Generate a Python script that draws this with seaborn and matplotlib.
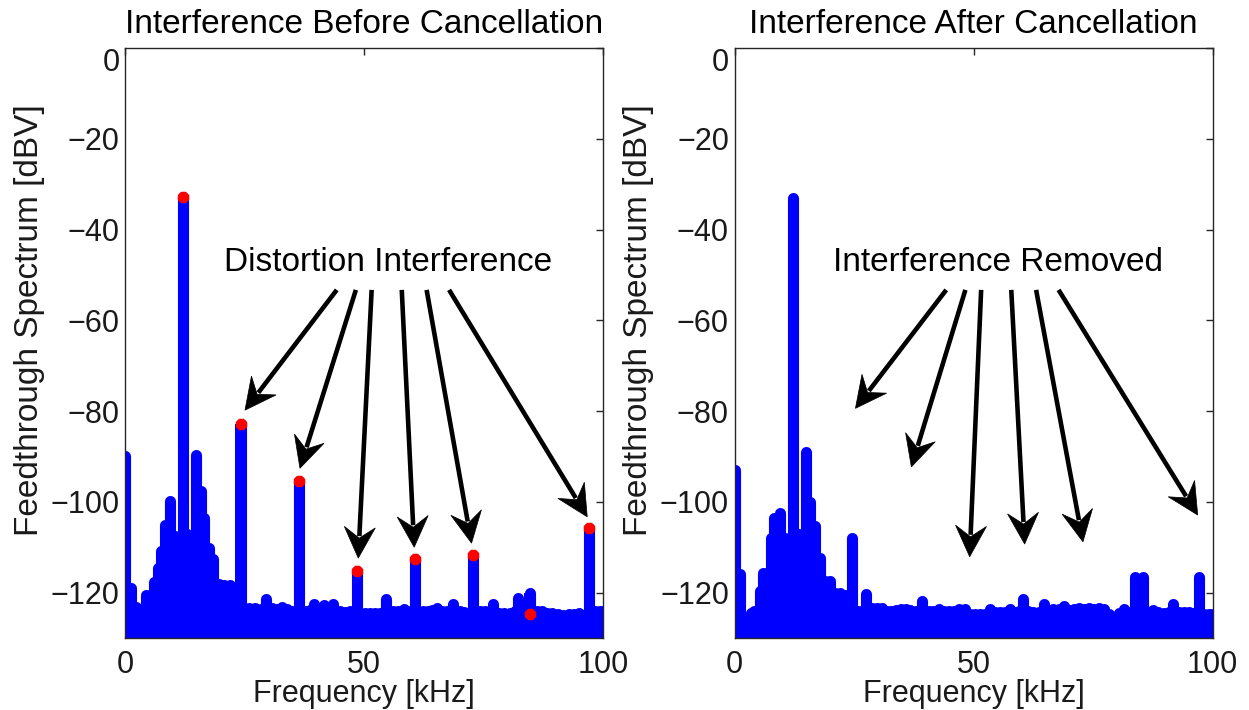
import numpy as np
import pandas as pd
import matplotlib
matplotlib.use("Agg")
import matplotlib.pyplot as plt
import seaborn as sns
from matplotlib.patches import Polygon

# ---------------- data ----------------
before_freq = [0.0, 1.2, 2.3, 3.3, 4.3, 5.3, 6.0, 6.8, 7.6, 8.3, 9.4, 10.5, 12.1, 13.0,
               14.9, 15.8, 16.6, 17.5, 18.5, 19.7, 20.8, 21.9, 24.3, 26.0, 27.2, 28.4,
               29.6, 30.8, 31.8, 32.8, 33.9, 35.0, 36.4, 37.8, 38.7, 39.5, 40.5, 41.6,
               42.5, 43.6, 44.9, 46.0, 47.0, 48.5, 50.2, 51.3, 52.3, 53.4, 54.7, 56.0,
               57.2, 58.3, 59.2, 60.7, 62.3, 63.4, 64.3, 65.2, 66.3, 67.3, 68.7, 70.0,
               71.0, 72.8, 74.3, 75.4, 76.9, 78.2, 79.3, 80.5, 81.5, 82.3, 84.7, 86.1,
               87.2, 88.3, 89.4, 90.5, 91.7, 92.8, 93.9, 95.0, 97.1, 98.4, 99.4, 100.0]
before_db = [-90.0, -119.0, -123.2, -124.0, -120.5, -120.5, -117.6, -114.6, -110.9, -105.0,
             -99.9, -107.5, -32.8, -107.0, -89.6, -97.7, -103.5, -110.1, -112.7, -118.2,
             -118.4, -118.4, -82.9, -123.4, -123.4, -123.6, -121.5, -123.4, -123.6, -123.2,
             -123.6, -124.0, -95.4, -124.0, -123.8, -122.5, -123.5, -122.7, -123.4, -122.6,
             -124.1, -124.2, -124.1, -115.2, -124.5, -124.5, -124.5, -124.5, -121.5, -124.0,
             -124.0, -123.6, -124.0, -112.6, -124.0, -124.0, -123.8, -123.3, -124.0, -124.0,
             -122.6, -124.0, -124.2, -111.7, -124.1, -124.1, -122.6, -124.5, -124.5, -124.5,
             -124.0, -121.1, -120.0, -124.0, -124.0, -124.5, -124.6, -124.8, -125.0, -124.8,
             -124.7, -124.6, -105.8, -124.0, -124.0, -124.0]

after_freq = [0.0, 1.1, 1.6, 2.5, 3.4, 4.1, 5.3, 6.0, 6.8, 7.6, 8.3, 9.5, 10.6, 12.2,
              13.4, 15.0, 15.8, 16.8, 17.9, 18.9, 19.9, 21.0, 22.1, 23.2, 24.5, 25.9,
              26.6, 27.5, 28.7, 29.8, 30.8, 31.8, 32.8, 33.8, 34.8, 35.8, 36.8, 37.9,
              39.3, 40.6, 41.6, 42.7, 43.8, 44.8, 45.9, 47.0, 48.2, 49.3, 50.3, 51.4,
              52.5, 53.5, 54.6, 55.6, 56.6, 57.6, 58.6, 59.5, 60.4, 61.4, 62.4, 63.6,
              64.7, 65.7, 66.7, 67.8, 69.0, 70.1, 71.1, 72.1, 73.1, 74.1, 75.2, 76.2,
              77.3, 78.3, 79.4, 80.4, 81.5, 82.5, 83.8, 85.5, 86.6, 87.6, 88.7, 89.8,
              90.8, 91.8, 92.9, 94.0, 95.0, 96.0, 97.1, 98.3, 99.3, 100.0]
after_db = [-93.0, -116.0, -125.5, -125.8, -124.5, -124.0, -119.7, -115.7, -115.7, -108.0,
            -103.5, -102.4, -108.0, -33.0, -107.0, -89.0, -100.0, -105.4, -112.4, -117.5,
            -117.5, -120.0, -120.0, -120.5, -108.0, -124.0, -124.0, -120.4, -123.4, -123.4,
            -123.4, -124.0, -124.0, -123.8, -123.7, -123.7, -123.8, -124.0, -121.9, -124.0,
            -124.0, -123.7, -124.0, -124.0, -124.0, -123.7, -123.7, -124.8, -124.8, -124.8,
            -124.8, -123.7, -124.3, -124.3, -124.3, -123.5, -124.3, -124.0, -121.3, -124.0,
            -124.3, -124.3, -122.5, -124.0, -123.7, -123.7, -123.0, -123.8, -123.5, -123.4,
            -123.6, -123.4, -123.6, -123.4, -123.7, -124.8, -125.5, -124.5, -123.5, -124.2,
            -116.5, -116.5, -124.2, -123.9, -124.2, -124.5, -124.2, -122.6, -124.2, -124.2,
            -124.3, -124.5, -116.5, -124.8, -124.8, -124.8]

marker_freq = [12.1, 24.3, 36.4, 48.5, 60.7, 72.8, 84.7, 97.1]
marker_db = [-32.8, -82.9, -95.4, -115.2, -112.6, -111.7, -124.7, -105.8]

x_ticks = [0, 50, 100]
y_ticks = [-120, -100, -80, -60, -40, -20, 0]

titles = ["Interference Before Cancellation", "Interference After Cancellation"]
notes = ["Distortion Interference", "Interference Removed"]
x_label = "Frequency [kHz]"
y_label = "Feedthrough Spectrum [dBV]"

# annotation arrows (tail -> tip) in data coordinates of each panel
arrow_tails = [(44.3, -53.3), (48.3, -53.3), (51.6, -53.3), (57.9, -53.3), (63.1, -53.3), (67.8, -53.3)]
arrow_tips_left = [(25.1, -79.8), (36.6, -92.6), (48.8, -112.4), (60.5, -110.0), (72.5, -109.1), (96.7, -103.3)]
arrow_tips_right = [(25.3, -79.4), (37.0, -92.3), (49.2, -112.1), (60.7, -109.3), (72.9, -108.8), (96.9, -102.9)]

# ---------------- style ----------------
sns.set_theme(style="white")
plt.rcParams["font.family"] = ["Liberation Sans", "DejaVu Sans"]
plt.rcParams["axes.unicode_minus"] = True

DPI = 100
fig = plt.figure(figsize=(12.49, 7.10), dpi=DPI)
W, H = 1249, 710
ax_left = fig.add_axes([125 / W, 1 - 638 / H, 478 / W, 590 / H])
ax_right = fig.add_axes([734.5 / W, 1 - 638 / H, 478 / W, 590 / H])

FLOOR = -140
BLUE = "#0000ff"


def stems_frame(freqs, levels):
    rows = []
    for i, (f, l) in enumerate(zip(freqs, levels)):
        rows.append((i, f, FLOOR))
        rows.append((i, f, l))
    return pd.DataFrame(rows, columns=["stem", "freq", "db"])


def draw_arrow(ax, tail, tip, lw=3.3, head_len=31, head_w=15.5, notch=20):
    to_disp = ax.transData.transform
    p0 = to_disp(tail)
    p1 = to_disp(tip)
    d = p1 - p0
    u = d / np.linalg.norm(d)
    n = np.array([-u[1], u[0]])
    back = p1 - head_len * u
    pts = np.array([p1, back + head_w * n, p1 - notch * u, back - head_w * n])
    inv = ax.transData.inverted()
    ax.add_patch(Polygon(inv.transform(pts), closed=True, facecolor="black",
                         edgecolor="black", lw=0.5, clip_on=False, zorder=6))
    end = inv.transform([p1 - (notch + 2) * u])[0]
    ax.plot([tail[0], end[0]], [tail[1], end[1]], color="black", lw=lw,
            solid_capstyle="butt", clip_on=False, zorder=6)


panels = [
    (ax_left, before_freq, before_db, True, arrow_tips_left),
    (ax_right, after_freq, after_db, False, arrow_tips_right),
]

for k, (ax, fr, db, show_markers, tips) in enumerate(panels):
    ax.set_xlim(0, 100)
    ax.set_ylim(-130, 0)
    # flat plateaus between the thick spectral strokes
    ax.fill_between(fr, db, FLOOR, step="mid", color=BLUE, lw=0, zorder=2)
    df = stems_frame(fr, db)
    sns.lineplot(data=df, x="freq", y="db", units="stem", estimator=None, sort=False,
                 color=BLUE, linewidth=8, solid_capstyle="round", ax=ax,
                 legend=False, zorder=2)
    if show_markers:
        sns.scatterplot(x=marker_freq, y=marker_db, color="#ff0000", marker="8",
                        s=80, linewidth=0, ax=ax, zorder=4, legend=False)
    ax.set_xlim(0, 100)
    ax.set_ylim(-130, 0)
    ax.set_xticks(x_ticks)
    ax.set_yticks(y_ticks)
    ax.tick_params(axis="both", direction="in", length=5, width=1, color="#262626",
                   top=True, right=True, labelsize=22, labelcolor="#1a1a1a")
    ax.tick_params(axis="y", pad=4)
    ax.tick_params(axis="x", pad=8.5)
    for sp in ax.spines.values():
        sp.set_visible(True)
        sp.set_color("#262626")
        sp.set_linewidth(1)
    ax.set_xlabel(x_label, fontsize=22, color="#1a1a1a")
    ax.set_ylabel(y_label, fontsize=24, color="#1a1a1a")
    ax.xaxis.set_label_coords(0.5, -0.07)
    ax.yaxis.set_label_coords(-0.168, 0.539)
    ax.text(0.5, 1.025, titles[k], transform=ax.transAxes, ha="center", va="baseline",
            fontsize=24, color="black")
    ax.text(55.1, -47.2, notes[k], ha="center", va="center", fontsize=24, color="black",
            zorder=7)
    for tail, tip in zip(arrow_tails, tips):
        draw_arrow(ax, tail, tip)
    ax.set_facecolor("white")

fig.canvas.draw()
for ax in (ax_left, ax_right):
    for lab in ax.get_yticklabels():
        if lab.get_text() in ("0",):
            lab.set_verticalalignment("top")

fig.savefig("out.png", dpi=DPI, facecolor="white")
